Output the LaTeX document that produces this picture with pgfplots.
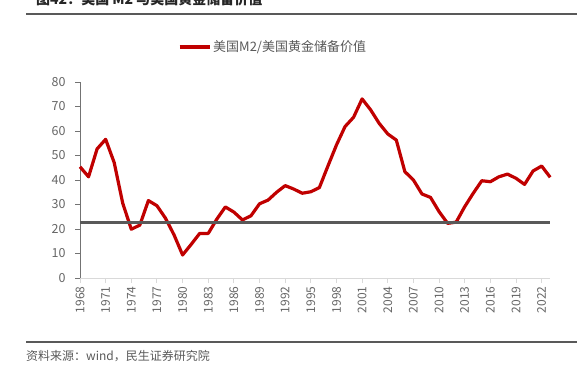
\documentclass[border=0pt]{standalone}
\usepackage{fontspec}
\setmainfont{Noto Sans CJK SC}
\usepackage{pgfplots}
\pgfplotsset{compat=1.18}
\definecolor{lred}{HTML}{C00000}
\definecolor{dgray}{HTML}{595959}
\definecolor{tgray}{HTML}{666666}
\begin{document}
\begin{tikzpicture}[x=1pt,y=1pt]
\path[use as bounding box] (0,0) rectangle (587,378);
\clip (0,0) rectangle (587,378);
\node[anchor=base west, font=\fontsize{14}{16}\selectfont\bfseries, text=black!85, inner sep=0pt] at (36,373) {图42：美国 M2 与美国黄金储备价值};
\draw[dgray, line width=1.8pt] (26,364) -- (577,364);
\draw[dgray, line width=1.8pt] (26,36) -- (577,36);
\node[anchor=west, font=\fontsize{12}{14}\selectfont, text=dgray, inner sep=0pt] at (26,22) {资料来源：wind，民生证券研究院};
\begin{axis}[
  at={(80pt,100pt)}, anchor=south west,
  scale only axis, width=470.2pt, height=196pt,
  xmin=1968, xmax=2023, ymin=0, ymax=80,
  axis x line*=bottom, axis y line*=left,
  x axis line style={draw=black!15, line width=1pt, -},
  y axis line style={draw=black!55, line width=1pt, -},
  xtick={1968,1971,...,2022},
  ytick={0,10,...,80},
  tick align=outside,
  major tick length=5pt,
  xtick style={draw=black!15, line width=1pt},
  ytick style={draw=black!55, line width=1pt},
  /pgf/number format/assume math mode=true,
  /pgf/number format/1000 sep={},
  xticklabel style={rotate=90, anchor=east, font=\fontsize{12}{14}\selectfont, text=tgray},
  yticklabel style={font=\fontsize{12.5}{14}\selectfont, text=tgray, xshift=-6pt},
  legend style={at={(0.208,1.179)}, anchor=west, draw=none, fill=none, inner sep=0pt,
    font=\fontsize{13}{15}\selectfont, text=dgray},
  legend image code/.code={\draw[#1] (0pt,0pt) -- (30pt,0pt);},
  legend cell align=left,
  clip=false,
]
\addplot[lred, line width=3.2pt, line join=round] coordinates {
(1968,45.4) (1969,41.3) (1970,52.7) (1971,56.6) (1972,47.1) (1973,30.5)
(1974,19.9) (1975,21.6) (1976,31.6) (1977,29.5) (1978,24.4) (1979,17.6)
(1980,9.4) (1981,13.7) (1982,18.2) (1983,18.2) (1984,24.0) (1985,29.0)
(1986,26.9) (1987,23.7) (1988,25.4) (1989,30.3) (1990,31.8) (1991,35.0)
(1992,37.7) (1993,36.3) (1994,34.6) (1995,35.2) (1996,36.9) (1997,45.7)
(1998,54.3) (1999,61.8) (2000,65.6) (2001,73.1) (2002,68.6) (2003,63.1)
(2004,58.8) (2005,56.3) (2006,43.4) (2007,40.0) (2008,34.3) (2009,32.9)
(2010,27.1) (2011,22.3) (2012,22.8) (2013,29.1) (2014,34.6) (2015,39.7)
(2016,39.3) (2017,41.3) (2018,42.4) (2019,40.7) (2020,38.2) (2021,43.7)
(2022,45.7) (2023,41.1)
};
\addlegendentry{美国M2/美国黄金储备价值}
\addplot[dgray, line width=3pt, forget plot] coordinates {(1968,22.8) (2023,22.8)};
\end{axis}
\end{tikzpicture}
\end{document}
